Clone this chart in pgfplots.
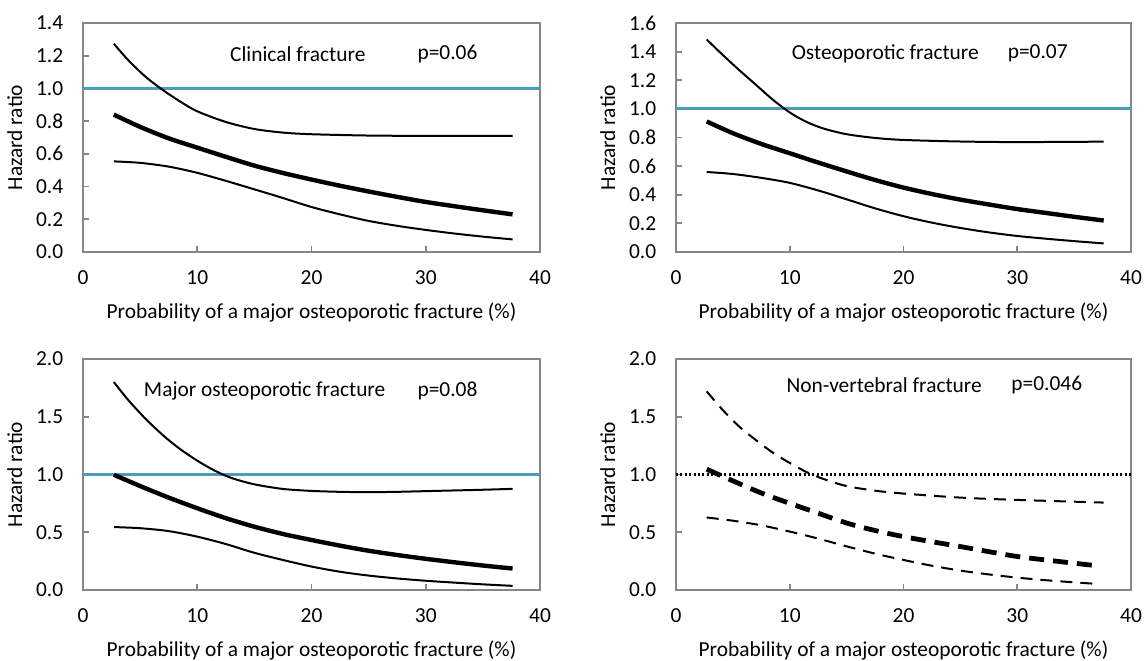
\documentclass[border=0pt]{standalone}
\usepackage{fontspec}
\setmainfont{Carlito}
\usepackage{pgfplots}
\pgfplotsset{compat=1.18}
\definecolor{refline}{RGB}{74,158,184}
\definecolor{axgray}{RGB}{134,134,134}

\pgfplotsset{
  panel/.style={
    scale only axis,
    xmin=0, xmax=40, ymin=0, xtick={0,10,...,40},
    axis line style={axgray, line width=0.9pt},
    tick style={axgray, line width=0.9pt},
    tick pos=left, tick align=inside, major tick length=3pt,
    font=\fontsize{10.7}{12.8}\selectfont,
    /pgf/number format/assume math mode=true,
    yticklabel style={/pgf/number format/fixed, /pgf/number format/fixed zerofill,
      /pgf/number format/precision=1, xshift=-6.4pt},
    xticklabel style={yshift=-6pt},
    xlabel={Probability of a major osteoporotic fracture (\%)},
    ylabel={Hazard ratio},
    xlabel style={yshift=-2pt},
    clip=false,
  },
  ci/.style={black, line width=1pt, smooth},
  est/.style={black, line width=2.2pt, smooth},
}

\begin{document}
\begin{tikzpicture}
\path[use as bounding box] (0,0) rectangle (573pt,330pt);

% Clinical fracture
\begin{axis}[panel, at={(41.5pt,204pt)}, width=228.5pt, height=114.5pt,
  ymax=1.4, ytick={0,0.2,...,1.4}]
\addplot[refline, line width=1.4pt] coordinates {(0,1) (40,1)};
\addplot[ci] coordinates {(2.7,1.273) (4,1.17) (5.5,1.07) (7,0.99) (8.5,0.92) (10,0.86)
  (12.5,0.795) (15,0.752) (17.5,0.73) (20,0.72) (25,0.712) (30,0.71) (37.6,0.71)};
\addplot[est] coordinates {(2.7,0.84) (5,0.765) (7.5,0.695) (10,0.638) (12.5,0.582) (15,0.528)
  (17.5,0.483) (20,0.443) (22.5,0.405) (25,0.37) (27.5,0.337) (30,0.306) (32.5,0.28) (35,0.255) (37.6,0.23)};
\addplot[ci] coordinates {(2.7,0.554) (5,0.545) (7.5,0.522) (10,0.484) (12.5,0.435) (15,0.383)
  (17.5,0.33) (20,0.275) (22.5,0.23) (25,0.19) (27.5,0.16) (30,0.135) (32.5,0.113) (35,0.094) (37.6,0.077)};
\node at (axis cs:18.8,1.21) {Clinical fracture};
\node at (axis cs:31.9,1.21) {p=0.06};
\end{axis}

% Osteoporotic fracture
\begin{axis}[panel, at={(338pt,204pt)}, width=227.5pt, height=114.5pt,
  ymax=1.6, ytick={0,0.2,...,1.6}]
\addplot[refline, line width=1.4pt] coordinates {(0,1) (40,1)};
\addplot[ci] coordinates {(2.7,1.485) (4,1.385) (5.5,1.275) (7,1.17) (8.5,1.065) (10,0.975)
  (11.5,0.908) (13,0.862) (15,0.823) (17.5,0.797) (20,0.783) (25,0.772) (30,0.768) (37.6,0.771)};
\addplot[est] coordinates {(2.7,0.912) (5,0.83) (7.5,0.755) (10,0.69) (12.5,0.625) (15,0.563)
  (17.5,0.503) (20,0.45) (22.5,0.405) (25,0.366) (27.5,0.332) (30,0.30) (32.5,0.273) (35,0.246) (37.6,0.22)};
\addplot[ci] coordinates {(2.7,0.559) (5,0.545) (7.5,0.518) (10,0.483) (12.5,0.43) (15,0.368)
  (17.5,0.305) (20,0.25) (22.5,0.205) (25,0.168) (27.5,0.137) (30,0.112) (32.5,0.093) (35,0.076) (37.6,0.06)};
\node at (axis cs:18.4,1.385) {Osteoporotic fracture};
\node at (axis cs:31.8,1.385) {p=0.07};
\end{axis}

% Major osteoporotic fracture
\begin{axis}[panel, at={(41.5pt,35pt)}, width=228.5pt, height=115.5pt,
  ymax=2, ytick={0,0.5,...,2}]
\addplot[refline, line width=1.4pt] coordinates {(0,1) (40,1)};
\addplot[ci] coordinates {(2.7,1.80) (4,1.64) (5.5,1.48) (7,1.34) (8.5,1.22) (10,1.12) (11.5,1.035)
  (13,0.97) (15,0.915) (17.5,0.875) (20,0.858) (22.5,0.85) (25,0.847) (27.5,0.85) (30,0.856) (35,0.868) (37.6,0.876)};
\addplot[est] coordinates {(2.7,0.998) (5,0.9) (7.5,0.8) (10,0.708) (12.5,0.622) (15,0.548)
  (17.5,0.485) (20,0.433) (22.5,0.384) (25,0.34) (27.5,0.303) (30,0.27) (32.5,0.24) (35,0.212) (37.6,0.186)};
\addplot[ci] coordinates {(2.7,0.545) (5,0.535) (7.5,0.51) (10,0.462) (12.5,0.398) (15,0.322)
  (17.5,0.26) (20,0.203) (22.5,0.158) (25,0.125) (27.5,0.1) (30,0.08) (32.5,0.064) (35,0.049) (37.6,0.036)};
\node at (axis cs:15.9,1.72) {Major osteoporotic fracture};
\node at (axis cs:31.9,1.72) {p=0.08};
\end{axis}

% Non-vertebral fracture
\begin{axis}[panel, at={(338pt,35pt)}, width=227.5pt, height=115.5pt,
  ymax=2, ytick={0,0.5,...,2}]
\addplot[black, line width=1.1pt, dash pattern=on 1pt off 1.2pt] coordinates {(0,1) (40,1)};
\addplot[black, line width=1pt, smooth, dash pattern=on 6pt off 4pt] coordinates {(2.7,1.72) (4,1.57)
  (5.5,1.42) (7,1.3) (8.5,1.19) (10,1.1) (11.5,1.02) (13,0.96) (15,0.9) (17.5,0.86) (20,0.835)
  (25,0.8) (30,0.78) (37.6,0.757)};
\addplot[black, line width=2.4pt, smooth, dash pattern=on 7.5pt off 4.5pt] coordinates {(2.7,1.046)
  (5,0.945) (7.5,0.84) (10,0.75) (12.5,0.665) (15,0.58) (17.5,0.515) (20,0.462) (22.5,0.418)
  (25,0.376) (27.5,0.332) (30,0.29) (32.5,0.26) (35,0.232) (37.2,0.208)};
\addplot[black, line width=1pt, smooth, dash pattern=on 6pt off 4pt] coordinates {(2.7,0.628)
  (5,0.6) (7.5,0.56) (10,0.506) (12.5,0.445) (15,0.378) (17.5,0.315) (20,0.26) (22.5,0.21)
  (25,0.168) (27.5,0.135) (30,0.107) (32.5,0.085) (35,0.066) (37.2,0.052)};
\node at (axis cs:18.3,1.775) {Non-vertebral fracture};
\node at (axis cs:32.6,1.775) {p=0.046};
\end{axis}
\end{tikzpicture}
\end{document}
